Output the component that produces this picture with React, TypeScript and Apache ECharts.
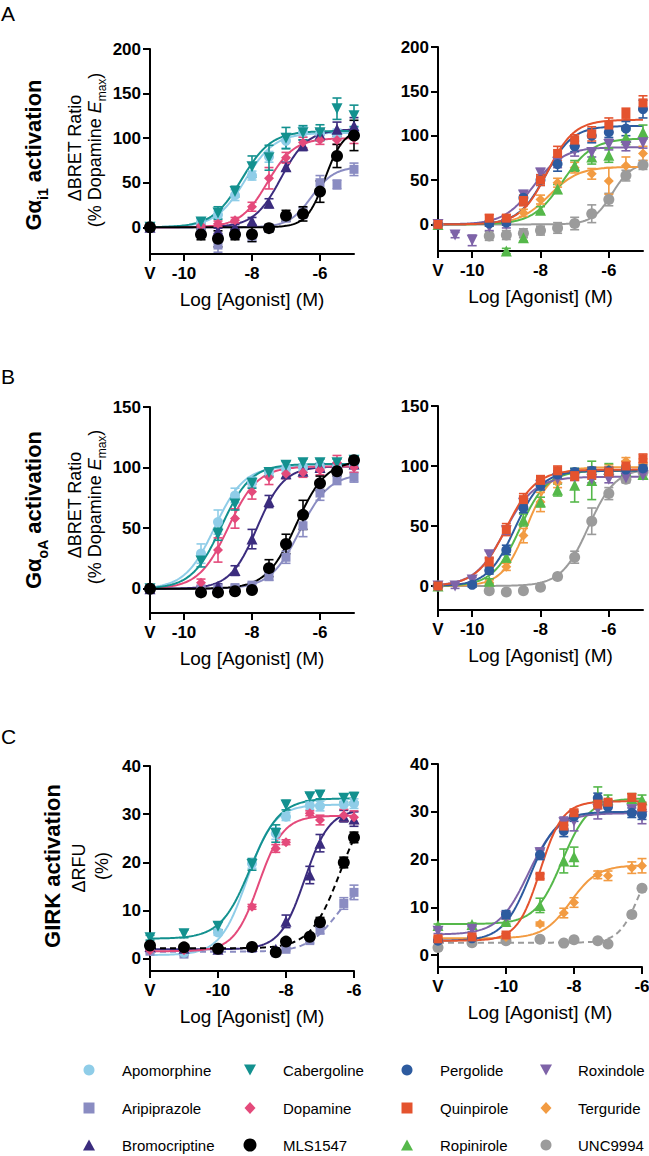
import React, { useEffect, useRef } from 'react';
import * as echarts from 'echarts';

const FONT = '"Liberation Sans", Arial, Helvetica, sans-serif';

// ---- drugs / styling ----
const drugNames = ['Apomorphine', 'Aripiprazole', 'Bromocriptine', 'Cabergoline', 'Dopamine', 'MLS1547', 'Pergolide', 'Quinpirole', 'Ropinirole', 'Roxindole', 'Terguride', 'UNC9994'];
const drugColors = ['#8fcde8', '#8a8cc2', '#3b2c7e', '#13918f', '#e44a7b', '#000000', '#2d5b9f', '#e4532e', '#55b84a', '#7e63a8', '#f29b42', '#9b9b9b'];
const drugSymbols = ['circle', 'rect', 'triangle', 'triangle', 'diamond', 'circle', 'circle', 'rect', 'triangle', 'triangle', 'diamond', 'circle'];
const drugRotate = [0, 0, 0, 180, 0, 0, 0, 0, 0, 180, 0, 0];
const drugSymbolSize = [10, 9, 11, 11, 10, 12, 10, 9, 11, 11, 10, 11];

// ---- axes ----
const xTicksAB = [-11, -10, -8, -6];
const xTicksC = [-12, -10, -8, -6];
const yTicksA = [0, 50, 100, 150, 200];
const yTicksB = [0, 50, 100, 150];
const yTicksC = [0, 10, 20, 30, 40];

// ---- doses (log M); first entry is vehicle "V" ----
const dosesLeftAB = [-11, -9.5, -9, -8.5, -8, -7.5, -7, -6.5, -6, -5.5, -5];
const dosesRightAB = [-11, -10.5, -10, -9.5, -9, -8.5, -8, -7.5, -7, -6.5, -6, -5.5, -5];
const dosesC = [-12, -11, -10, -9, -8.3, -8, -7.3, -7, -6.3, -6];

const leftDrugs = ['Aripiprazole', 'Apomorphine', 'Bromocriptine', 'Dopamine', 'Cabergoline', 'MLS1547'];
const rightDrugs = ['UNC9994', 'Terguride', 'Ropinirole', 'Roxindole', 'Pergolide', 'Quinpirole'];

// ---- Panel A (Gαi1) left ----
const aLeftMean = [
  [0, -6, -20, -8, -10, -1, 11, 16, 50, 48, 65],
  [0, 6, 14, 36, 58, 79, 97, 107, 105, 104, 106],
  [0, -2, -4, 0, 7, 27, 68, 92, 104, 110, 114],
  [0, 2, 4, 8, 23, 55, 78, 95, 98, 98, 100],
  [0, 6, 16, 40, 68, 78, 100, 106, 106, 133, 125],
  [0, -8, -13, -8, -8, -1, 13, 15, 40, 80, 103],
];
const aLeftSem = [
  [0, 4, 8, 5, 6, 4, 5, 6, 8, 5, 7],
  [0, 3, 4, 6, 5, 6, 8, 6, 5, 6, 6],
  [0, 3, 3, 3, 4, 5, 5, 6, 6, 8, 9],
  [0, 2, 3, 3, 5, 12, 6, 6, 5, 5, 6],
  [0, 4, 7, 6, 12, 14, 12, 8, 9, 12, 12],
  [0, 6, 9, 6, 8, 4, 6, 8, 12, 13, 17],
];
// fit parameters: bottom, top, logEC50, hill slope
const aLeftFit = [
  [0, 68, -6.25, 1.3],
  [0, 106, -8.2, 1.0],
  [0, 110, -7.15, 1.1],
  [0, 100, -7.55, 1.1],
  [0, 108, -8.3, 1.0],
  [0, 110, -5.85, 1.6],
];

// ---- Panel A (Gαi1) right ----
const aRightMean = [
  [0, null, null, -13, -12, -10, -7, -4, 1, 12, 28, 55, 67],
  [0, null, null, 1, 4, 13, 28, 47, 64, 57, 49, 66, 80],
  [0, null, null, null, -30, -15, 16, 40, 66, 76, 78, 98, 104],
  [0, -12, -18, -3, 0, 33, 58, 70, 83, 81, 90, 88, 92],
  [0, null, null, 1, 2, 30, 50, 68, 88, 100, 104, 108, 130],
  [0, null, null, 7, 7, 27, 50, 80, 95, 102, 112, 125, 137],
];
const aRightSem = [
  [0, 0, 0, 5, 5, 5, 5, 6, 7, 10, 7, 6, 5],
  [0, 0, 0, 3, 3, 4, 5, 5, 6, 6, 15, 10, 8],
  [0, 0, 0, 0, 3, 4, 4, 5, 6, 8, 8, 8, 8],
  [0, 3, 6, 4, 4, 5, 5, 6, 6, 5, 6, 5, 6],
  [0, 0, 0, 3, 3, 8, 6, 8, 6, 8, 6, 8, 10],
  [0, 0, 0, 4, 4, 6, 6, 8, 6, 8, 8, 6, 8],
];
const aRightFit = [
  [0, 70, -5.9, 1.5],
  [0, 65, -7.75, 1.0],
  [0, 97, -7.35, 1.0],
  [0, 87, -8.2, 1.0],
  [0, 111, -7.85, 1.1],
  [0, 118, -7.8, 1.1],
];

// ---- Panel B (GαoA) left ----
const bLeftMean = [
  [0, 0, 0, 1, 3, 10, 26, 52, 79, 90, 92],
  [0, 29, 55, 77, 88, 96, 99, 100, 101, 101, 102],
  [0, 0, 2, 15, 41, 72, 95, 97, 100, 100, 103],
  [0, 5, 32, 58, 80, 92, 95, 96, 98, 104, 100],
  [0, 23, 45, 70, 87, 96, 102, 104, 104, 104, 106],
  [0, -3, -3, -2, -1, 17, 37, 61, 87, 97, 106],
];
const bLeftSem = [
  [0, 2, 2, 2, 2, 3, 5, 9, 6, 4, 4],
  [0, 8, 10, 6, 4, 3, 3, 3, 3, 3, 3],
  [0, 2, 2, 4, 8, 5, 4, 3, 3, 3, 3],
  [0, 3, 10, 8, 6, 6, 4, 4, 4, 6, 4],
  [0, 5, 5, 5, 4, 3, 3, 3, 3, 3, 3],
  [0, 2, 2, 2, 2, 7, 8, 12, 6, 4, 3],
];
const bLeftFit = [
  [0, 95, -6.6, 1.0],
  [0, 101, -9.1, 1.0],
  [0, 101, -7.85, 1.1],
  [0, 101, -8.7, 1.0],
  [0, 103, -8.9, 1.0],
  [0, 106, -6.7, 1.0],
];

// ---- Panel B (GαoA) right ----
const bRightMean = [
  [0, null, null, -4, -5, -4, -1, 8, 24, 54, 77, 89, 95],
  [0, null, null, 3, 16, 42, 70, 86, 93, 96, 98, 104, 103],
  [0, null, null, 4, 24, 55, 70, 80, 84, 88, 97, 96, 93],
  [0, 0, 5, 26, 46, 69, 84, 89, 91, 89, 89, 90, 92],
  [0, null, 1, 13, 30, 65, 84, 93, 95, 96, 96, 97, 98],
  [0, null, null, 20, 47, 72, 88, 96, 92, 93, 95, 100, 106],
];
const bRightSem = [
  [0, 0, 0, 2, 2, 2, 2, 2, 5, 11, 5, 3, 3],
  [0, 0, 0, 2, 3, 6, 8, 4, 3, 3, 3, 3, 3],
  [0, 0, 0, 2, 4, 5, 4, 5, 14, 16, 5, 4, 4],
  [0, 2, 2, 3, 3, 4, 3, 3, 3, 3, 3, 3, 3],
  [0, 0, 2, 3, 4, 4, 4, 3, 3, 3, 3, 3, 3],
  [0, 0, 0, 4, 5, 5, 4, 4, 4, 4, 4, 4, 4],
];
const bRightFit = [
  [0, 98, -6.6, 1.1],
  [0, 99, -8.4, 1.2],
  [0, 96, -8.6, 1.1],
  [0, 91, -9.05, 1.0],
  [0, 96, -8.75, 1.1],
  [0, 97, -9.0, 1.0],
];

// ---- Panel C (GIRK) left ----
const cLeftMean = [
  [1.6, 1.0, 2.0, 2.2, 1.3, 2.0, 3.8, 6.0, 11.5, 13.8],
  [2.5, 1.3, 5.5, 19.8, 26.0, 29.5, 31.8, 31.7, 32.0, 32.2],
  [2.6, 2.2, 2.0, 2.6, 2.0, 7.8, 17.4, 24.0, 29.6, 29.0],
  [1.8, 1.8, 2.0, 10.8, 22.9, 24.2, 30.2, 28.8, 29.8, 29.4],
  [4.4, 5.2, 6.8, 19.6, 26.0, 31.9, 33.6, 34.0, 33.3, 33.5],
  [2.8, 2.4, 2.1, 2.5, 1.4, 3.6, 4.6, 7.6, 20.0, 25.2],
];
const cLeftSem = [
  [0.3, 0.3, 0.3, 0.3, 0.3, 0.3, 0.5, 0.8, 1.2, 1.5],
  [0.5, 0.4, 0.6, 1.0, 1.2, 0.8, 0.8, 1.0, 1.0, 1.0],
  [0.3, 0.3, 0.3, 0.4, 0.3, 1.3, 1.8, 1.8, 1.2, 1.5],
  [0.3, 0.3, 0.3, 0.5, 0.8, 0.5, 0.5, 1.0, 1.2, 1.3],
  [0.5, 0.8, 0.8, 1.2, 1.8, 1.0, 0.8, 0.8, 0.8, 1.0],
  [0.3, 0.3, 0.3, 0.3, 0.3, 0.5, 0.5, 1.0, 1.1, 1.1],
];
const cLeftFit = [
  [1.5, 17, -6.5, 1.0],
  [0.8, 32, -9.15, 1.1],
  [2.0, 31, -7.45, 1.2],
  [1.6, 29.7, -8.8, 1.2],
  [4.2, 33.3, -9.05, 1.0],
  [2.2, 34, -6.4, 1.0],
];
const cLeftDashed = ['Aripiprazole', 'MLS1547'];

// ---- Panel C (GIRK) right ----
const cRightMean = [
  [1.6, 2.6, 3.0, 3.3, 2.5, 3.2, 3.0, 2.3, 8.5, 14.0],
  [3.6, 3.6, 3.8, 6.5, 8.8, 11.0, 16.8, 16.6, 18.3, 18.7],
  [6.2, 6.4, 7.0, 10.4, 19.7, 20.6, 33.2, 32.5, 32.8, 32.5],
  [5.0, 5.4, 8.0, 21.4, 27.7, 28.0, 30.5, 31.0, 30.4, 29.0],
  [3.0, 3.5, 8.5, 21.0, 26.0, 29.0, 32.9, 31.0, 29.8, 29.4],
  [3.4, 3.8, 4.2, 16.5, 27.0, 29.8, 31.6, 32.0, 33.0, 31.0],
];
const cRightSem = [
  [0.2, 0.2, 0.2, 0.2, 0.2, 0.2, 0.2, 0.2, 0.4, 0.4],
  [0.3, 0.3, 0.3, 0.4, 1.0, 1.0, 0.8, 1.0, 1.2, 1.5],
  [0.3, 0.3, 0.5, 1.5, 2.5, 2.0, 2.0, 1.0, 1.0, 1.0],
  [0.5, 0.5, 0.5, 1.0, 1.2, 2.0, 2.0, 1.0, 1.0, 1.5],
  [0.3, 0.3, 0.8, 1.0, 1.2, 1.0, 1.0, 1.0, 1.0, 1.0],
  [0.3, 0.3, 0.3, 0.5, 1.0, 0.5, 1.0, 0.5, 0.8, 1.0],
];
const cRightFit = [
  [2.6, 22, -6.1, 1.5],
  [3.5, 18.8, -8.1, 1.1],
  [6.5, 32.8, -8.35, 1.1],
  [4.3, 29.7, -9.35, 1.0],
  [3.0, 30.0, -9.3, 1.1],
  [3.0, 32.2, -9.0, 1.3],
];
const cRightDashed = ['UNC9994'];

// ---- legend layout ----
const legendMarkerX = [89, 250, 407, 546];
const legendTextX = [122, 283, 440, 578];
const legendRowY = [1070, 1108, 1145];

type Panel = {
  grid: any; xMin: number; xMax: number; yMin: number; yMax: number;
  xTicks: number[]; yTicks: number[]; doses: number[]; drugs: string[];
  mean: (number | null)[][]; sem: number[][]; fit: number[][]; dashed: string[]; nameGap: number;
};

const panels: Panel[] = [
  { grid: { left: 150, top: 49, width: 204, height: 205 }, xMin: -11, xMax: -5, yMin: -30, yMax: 200, xTicks: xTicksAB, yTicks: yTicksA, doses: dosesLeftAB, drugs: leftDrugs, mean: aLeftMean, sem: aLeftSem, fit: aLeftFit, dashed: [], nameGap: 36 },
  { grid: { left: 438, top: 47, width: 205, height: 204 }, xMin: -11, xMax: -5, yMin: -30, yMax: 200, xTicks: xTicksAB, yTicks: yTicksA, doses: dosesRightAB, drugs: rightDrugs, mean: aRightMean, sem: aRightSem, fit: aRightFit, dashed: [], nameGap: 36 },
  { grid: { left: 150, top: 407, width: 204, height: 206 }, xMin: -11, xMax: -5, yMin: -20, yMax: 150, xTicks: xTicksAB, yTicks: yTicksB, doses: dosesLeftAB, drugs: leftDrugs, mean: bLeftMean, sem: bLeftSem, fit: bLeftFit, dashed: [], nameGap: 36 },
  { grid: { left: 438, top: 406, width: 205, height: 204 }, xMin: -11, xMax: -5, yMin: -20, yMax: 150, xTicks: xTicksAB, yTicks: yTicksB, doses: dosesRightAB, drugs: rightDrugs, mean: bRightMean, sem: bRightSem, fit: bRightFit, dashed: [], nameGap: 36 },
  { grid: { left: 150, top: 766, width: 204, height: 205 }, xMin: -12, xMax: -6, yMin: -2.5, yMax: 40, xTicks: xTicksC, yTicks: yTicksC, doses: dosesC, drugs: leftDrugs, mean: cLeftMean, sem: cLeftSem, fit: cLeftFit, dashed: cLeftDashed, nameGap: 36 },
  { grid: { left: 438, top: 764, width: 204, height: 203 }, xMin: -12, xMax: -6, yMin: -2.5, yMax: 40, xTicks: xTicksC, yTicks: yTicksC, doses: dosesC, drugs: rightDrugs, mean: cRightMean, sem: cRightSem, fit: cRightFit, dashed: cRightDashed, nameGap: 36 },
];

const hill = (f: number[], x: number) => f[0] + (f[1] - f[0]) / (1 + Math.pow(10, (f[2] - x) * f[3]));

function vText(x: number, y: number, text: string, rich: any) {
  return {
    type: 'text', x, y, rotation: Math.PI / 2,
    style: { text, rich, align: 'center', verticalAlign: 'middle', fill: '#000' },
  };
}

function buildOption() {
  const axisLineStyle = { color: '#000', width: 2 };
  const grid: any[] = [];
  const xAxis: any[] = [];
  const yAxis: any[] = [];
  const series: any[] = [];

  panels.forEach((p, i) => {
    grid.push({ ...p.grid, containLabel: false, outerBoundsMode: 'none' });
    xAxis.push({
      type: 'value', gridIndex: i, min: p.xMin, max: p.xMax,
      axisLine: { show: true, onZero: false, lineStyle: axisLineStyle },
      axisTick: { show: true, length: 7, customValues: p.xTicks, lineStyle: axisLineStyle },
      axisLabel: {
        customValues: p.xTicks,
        formatter: (v: number) => (v === p.xMin ? 'V' : String(v)),
        fontSize: 17, fontWeight: 'bold', color: '#000', fontFamily: FONT, margin: 11,
      },
      splitLine: { show: false },
      name: 'Log [Agonist] (M)', nameLocation: 'middle', nameGap: p.nameGap,
      nameTextStyle: { fontSize: 19, color: '#000', fontFamily: FONT },
    });
    yAxis.push({
      type: 'value', gridIndex: i, min: p.yMin, max: p.yMax,
      axisLine: { show: true, onZero: false, lineStyle: axisLineStyle },
      axisTick: { show: true, length: 7, customValues: p.yTicks, lineStyle: axisLineStyle },
      axisLabel: {
        customValues: p.yTicks,
        fontSize: 17, fontWeight: 'bold', color: '#000', fontFamily: FONT, margin: 9,
      },
      splitLine: { show: false },
    });

    p.drugs.forEach((name, k) => {
      const di = drugNames.indexOf(name);
      const color = drugColors[di];
      const fit = p.fit[k];
      // fitted curve
      const curve: number[][] = [];
      for (let x = p.xMin; x <= p.xMax + 1e-9; x += 0.05) curve.push([x, hill(fit, x)]);
      series.push({
        type: 'line', name: name + ' fit', xAxisIndex: i, yAxisIndex: i, data: curve,
        showSymbol: false, symbol: 'none', silent: true, z: 2,
        lineStyle: { color, width: 2, type: p.dashed.includes(name) ? [6, 4] : 'solid' },
      });
      // points
      const pts: number[][] = [];
      const errs: number[][] = [];
      p.doses.forEach((d, j) => {
        const v = p.mean[k][j];
        if (v === null || v === undefined) return;
        pts.push([d, v]);
        const e = p.sem[k][j];
        if (e > 0) errs.push([d, v, e]);
      });
      series.push({
        type: 'custom', name: name + ' SEM', xAxisIndex: i, yAxisIndex: i, coordinateSystem: 'cartesian2d',
        data: errs, z: 3, silent: true, clip: false,
        encode: { x: 0, y: 1 },
        renderItem: (params: any, api: any) => {
          const x = api.value(0), y = api.value(1), e = api.value(2);
          const a = api.coord([x, y + e]);
          const b = api.coord([x, y - e]);
          const w = 4.5;
          const style = { stroke: color, lineWidth: 1.6, fill: 'none' };
          return {
            type: 'group',
            children: [
              { type: 'line', shape: { x1: a[0], y1: a[1], x2: b[0], y2: b[1] }, style },
              { type: 'line', shape: { x1: a[0] - w, y1: a[1], x2: a[0] + w, y2: a[1] }, style },
              { type: 'line', shape: { x1: b[0] - w, y1: b[1], x2: b[0] + w, y2: b[1] }, style },
            ],
          };
        },
      });
      series.push({
        type: 'scatter', name, xAxisIndex: i, yAxisIndex: i, data: pts, z: 4, clip: false,
        symbol: drugSymbols[di], symbolRotate: drugRotate[di], symbolSize: drugSymbolSize[di],
        itemStyle: { color, opacity: 1 },
      });
    });
  });

  // ---- texts ----
  const big = { fontSize: 22, fontWeight: 'bold', fontFamily: FONT, fill: '#000', verticalAlign: 'bottom', padding: [0, 0, 5, 0] };
  const bigSub = { fontSize: 14, fontWeight: 'bold', fontFamily: FONT, fill: '#000', verticalAlign: 'bottom' };
  const norm = { fontSize: 18, fontFamily: FONT, fill: '#000', verticalAlign: 'bottom', padding: [0, 0, 4, 0] };
  const ital = { fontSize: 18, fontStyle: 'italic', fontFamily: FONT, fill: '#000', verticalAlign: 'bottom', padding: [0, 0, 4, 0] };
  const sub = { fontSize: 12, fontFamily: FONT, fill: '#000', verticalAlign: 'bottom' };
  const richG = { b: big, s: bigSub };
  const richN = { n: norm, i: ital, s: sub };

  const graphic: any[] = [
    { type: 'text', x: 1, y: 3, style: { text: 'A', fontSize: 21, fontFamily: FONT, fill: '#000', align: 'left', verticalAlign: 'top' } },
    { type: 'text', x: 1, y: 366, style: { text: 'B', fontSize: 21, fontFamily: FONT, fill: '#000', align: 'left', verticalAlign: 'top' } },
    { type: 'text', x: 1, y: 726, style: { text: 'C', fontSize: 21, fontFamily: FONT, fill: '#000', align: 'left', verticalAlign: 'top' } },
    vText(36, 155, '{b|Gα}{s|i1}{b| activation}', richG),
    vText(77, 148, '{n|ΔBRET Ratio}', richN),
    vText(97, 150, '{n|(% Dopamine }{i|E}{s|max}{n|)}', richN),
    vText(36, 510, '{b|Gα}{s|oA}{b| activation}', richG),
    vText(77, 505, '{n|ΔBRET Ratio}', richN),
    vText(97, 507, '{n|(% Dopamine }{i|E}{s|max}{n|)}', richN),
    vText(55, 866, '{b|GIRK activation}', richG),
    vText(81, 868, '{n|ΔRFU}', richN),
    vText(104, 866, '{n|(%)}', richN),
  ];

  // ---- legend ----
  drugNames.forEach((name, di) => {
    const col = Math.floor(di / 3);
    const row = di % 3;
    const cx = legendMarkerX[col];
    const cy = legendRowY[row];
    const color = drugColors[di];
    const sym = drugSymbols[di];
    let marker: any;
    if (sym === 'circle') {
      marker = { type: 'circle', shape: { cx, cy, r: name === 'MLS1547' ? 6.5 : 5.5 }, style: { fill: color } };
    } else if (sym === 'rect') {
      marker = { type: 'rect', shape: { x: cx - 5.5, y: cy - 5.5, width: 11, height: 11 }, style: { fill: color } };
    } else if (sym === 'diamond') {
      marker = { type: 'polygon', shape: { points: [[cx, cy - 6], [cx + 5.5, cy], [cx, cy + 6], [cx - 5.5, cy]] }, style: { fill: color } };
    } else if (drugRotate[di] === 180) {
      marker = { type: 'polygon', shape: { points: [[cx - 6, cy - 5.5], [cx + 6, cy - 5.5], [cx, cy + 5.5]] }, style: { fill: color } };
    } else {
      marker = { type: 'polygon', shape: { points: [[cx, cy - 5.5], [cx + 6, cy + 5.5], [cx - 6, cy + 5.5]] }, style: { fill: color } };
    }
    graphic.push(marker);
    graphic.push({
      type: 'text', x: legendTextX[col], y: cy,
      style: { text: name, fontSize: 15, fontFamily: FONT, fill: '#000', align: 'left', verticalAlign: 'middle' },
    });
  });

  return {
    animation: false,
    backgroundColor: '#ffffff',
    grid, xAxis, yAxis, series, graphic,
  };
}

export default function App() {
  const ref = useRef<HTMLDivElement>(null);
  useEffect(() => {
    document.body.style.margin = '0';
    const chart = echarts.init(ref.current as HTMLDivElement, null, { renderer: 'svg' });
    chart.setOption(buildOption() as any);
    return () => chart.dispose();
  }, []);
  return <div ref={ref} style={{ width: 649, height: 1156 }} />;
}
